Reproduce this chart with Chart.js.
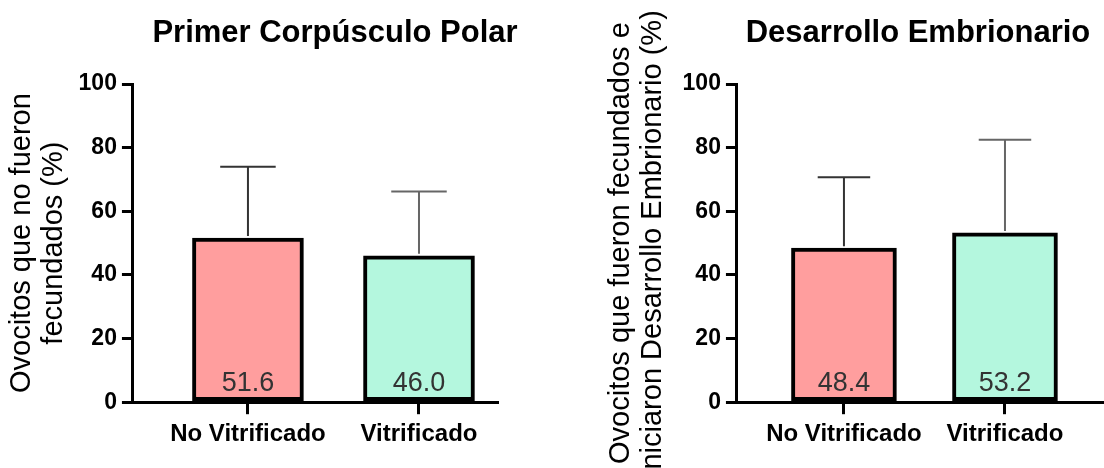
<!DOCTYPE html>
<html><head><meta charset="utf-8">
<script src="https://cdn.jsdelivr.net/npm/chart.js@4.4.1/dist/chart.umd.min.js"></script>
<style>
html,body{margin:0;padding:0;background:#fff;overflow:hidden;width:1104px;height:468px;position:relative;}
canvas{position:absolute;top:0;}
#c1{left:0}
#c2{left:560px}
</style></head><body>
<canvas id="c1" width="670" height="468"></canvas>
<canvas id="c2" width="716" height="468"></canvas>
<script>
const categories = ['No Vitrificado', 'Vitrificado'];
const positions = [1, 2];
const titlePolar = 'Primer Corpúsculo Polar';
const titleEmbrio = 'Desarrollo Embrionario';
const yTitlePolar = ['Ovocitos que no fueron', 'fecundados (%)'];
const yTitleEmbrio = ['Ovocitos que fueron fecundados e', 'iniciaron Desarrollo Embrionario (%)'];
const polarMeans = [51.6, 46.0];
const polarSD = [22.4, 20.2];
const embrioMeans = [48.4, 53.2];
const embrioSD = [22.3, 29.3];
const yTicks = [0, 20, 40, 60, 80, 100];
const barColors = ['#FF9E9E', '#B4F7DE'];
const errColors = ['#333333', '#666666'];

const FAMILY = '"Liberation Sans", Arial, Helvetica, sans-serif';

const errorBarPlugin = {
  id: 'errorBars',
  afterDatasetsDraw(chart) {
    const ctx = chart.ctx;
    const y = chart.scales.y;
    const meta = chart.getDatasetMeta(0);
    const ds = chart.data.datasets[0];
    meta.data.forEach((bar, i) => {
      const v = ds.data[i].y;
      const e = ds.errors[i];
      const yTop = y.getPixelForValue(v + e);
      const yBase = y.getPixelForValue(v);
      const half = bar.width / 4;
      ctx.save();
      ctx.strokeStyle = errColors[i];
      ctx.lineWidth = 2;
      ctx.beginPath();
      ctx.moveTo(bar.x, yBase - 2);
      ctx.lineTo(bar.x, yTop);
      ctx.moveTo(bar.x - half, yTop);
      ctx.lineTo(bar.x + half, yTop);
      ctx.stroke();
      ctx.fillStyle = '#333';
      ctx.font = '27px ' + FAMILY;
      ctx.textAlign = 'center';
      ctx.textBaseline = 'alphabetic';
      ctx.fillText(v.toFixed(1), bar.x, y.getPixelForValue(0) - 11);
      ctx.restore();
    });
  }
};

function makeChart(id, cfg) {
  return new Chart(document.getElementById(id), {
    type: 'bar',
    data: {
      datasets: [{
        data: positions.map((p, i) => ({x: p, y: cfg.means[i]})),
        errors: cfg.sd,
        backgroundColor: barColors,
        borderColor: '#000',
        borderWidth: 4,
        borderSkipped: false,
        barThickness: cfg.barW,
        yAxisID: 'y'
      }]
    },
    options: {
      responsive: false,
      animation: false,
      devicePixelRatio: 1,
      layout: {padding: {left: 0, right: 0, top: 0, bottom: 13}},
      plugins: {
        legend: {display: false},
        tooltip: {enabled: false},
        title: {
          display: true, text: cfg.title, color: '#000',
          font: {family: FAMILY, size: 31, weight: 'bold', lineHeight: 1.2},
          padding: {top: 15, bottom: 31.8}
        }
      },
      scales: {
        x: {
          type: 'linear', min: cfg.xmin, max: cfg.xmax, offset: false,
          afterBuildTicks: s => { s.ticks = positions.map(v => ({value: v})); },
          ticks: {
            callback: v => categories[positions.indexOf(v)],
            color: '#000', font: {family: FAMILY, size: 24, weight: 'bold'},
            padding: 6, maxRotation: 0, autoSkip: false
          },
          grid: {display: true, drawOnChartArea: false, drawTicks: true, tickLength: 12, color: '#000', lineWidth: 3, offset: false},
          border: {display: true, color: '#000', width: 3}
        },
        y: {
          min: 0, max: 100,
          afterBuildTicks: s => { s.ticks = yTicks.map(v => ({value: v})); },
          ticks: {color: '#000', font: {family: FAMILY, size: 23, weight: 'bold'}, padding: 5},
          grid: {display: true, drawOnChartArea: false, drawTicks: true, tickLength: 11, color: '#000', lineWidth: 3},
          border: {display: true, color: '#000', width: 3},
          title: {
            display: true, text: cfg.yTitle, color: '#000',
            font: {family: FAMILY, size: 29, lineHeight: 1.12},
            padding: {top: cfg.ytTop, bottom: cfg.ytBottom}
          }
        },
        ySpace: {
          type: 'linear', position: 'right', display: true, min: 0, max: 100,
          afterFit: s => { s.width = cfg.rightSpace; },
          ticks: {display: false},
          grid: {display: false, drawTicks: false},
          border: {display: false}
        }
      }
    },
    plugins: [errorBarPlugin]
  });
}

makeChart('c1', {
  means: polarMeans, sd: polarSD, title: titlePolar, yTitle: yTitlePolar,
  barW: 111, rightSpace: 173, xmin: 0.3275, xmax: 2.4561, ytTop: 5.75, ytBottom: 2.85
});
makeChart('c2', {
  means: embrioMeans, sd: embrioSD, title: titleEmbrio, yTitle: yTitleEmbrio,
  barW: 105, rightSpace: 126, xmin: 0.3354, xmax: 2.9006, ytTop: 44.75, ytBottom: 7.85
});
</script>
</body></html>
